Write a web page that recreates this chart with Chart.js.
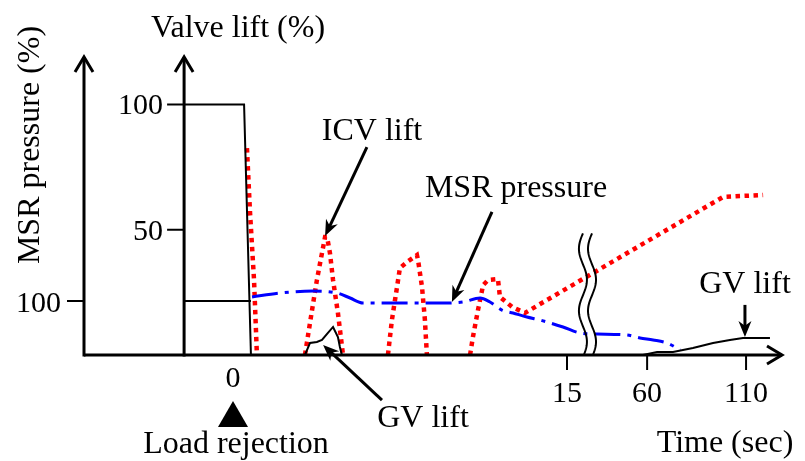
<!DOCTYPE html>
<html><head><meta charset="utf-8">
<script src="https://cdn.jsdelivr.net/npm/chart.js@4/dist/chart.umd.min.js"></script>
<style>html,body{margin:0;padding:0;background:#fff;}canvas{display:block;}</style>
</head><body>
<canvas id="c" width="805" height="461"></canvas>
<script>
// Time axis is broken: seconds before the break, compressed positions after it
const xTickPos    = [0, 15, 18.62, 23.09];
const xTickLabels = ['0', '15', '60', '110'];
const xTickMarked = [false, true, true, true];
const liftTicks   = [50, 100];
const msrTicks    = [100];
const valveAxisAt = -2.30;
const breakPos    = [15.72, 16.13];
const breakTop    = 48.6;

// GV lift (%)
const gvTime = [-2.30, 0.41, 0.72, 1.5, 3.16, 3.39, 3.70, 3.93, 4.16, 4.43, 4.65, 4.74, 4.83, 10, 18.43, 19.07, 19.79, 20.69, 21.60, 22.36, 22.95, 24.17];
const gvLift = [100, 100, 0, null, 0, 4.8, 5.2, 6.0, 8.4, 11.2, 7.2, 3.2, 0, null, 0, 1.2, 1.2, 2.8, 4.8, 6.0, 6.8, 6.8];

// ICV lift (%)
const icvTime = [0.54, 0.68, 0.86, 0.99, 2,
  3.16, 3.46, 3.70, 3.93, 4.07, 4.16, 4.29, 4.43, 4.65, 4.88, 6,
  6.91, 7.09, 7.32, 7.45, 7.77, 8.22, 8.27, 8.45, 8.58, 8.67, 9.5,
  10.62, 10.75, 10.98, 11.21, 11.43, 11.88, 11.97, 12.52, 13.10, 22.05, 23.86];
const icvLift = [82.6, 56.7, 29.9, 0, null,
  0, 16.8, 29.9, 40.7, 47.1, 47.1, 40.7, 29.9, 16.8, 0, null,
  0, 14.0, 27.1, 34.7, 37.1, 39.9, 37.9, 27.1, 14.0, 0, null,
  0, 7.2, 18.0, 27.9, 29.9, 30.3, 23.2, 19.2, 16.8, 63.1, 63.9];

// MSR pressure (%)
const msrBaseTime = [-2.30, 0.72];
const msrBase     = [100, 100];
const msrTime = [0.77, 2.03, 3.52, 4.61, 5.20, 5.78, 7.32, 9.40, 10.30, 11.07, 11.52, 12.06, 12.56, 13.19, 13.78, 14.82, 15.59, 16.36, 17.71, 18.30, 18.89, 19.52, 20.11];
const msrPressure = [107.4, 114.8, 118.5, 114.8, 105.6, 96.3, 96.3, 96.3, 98.2, 105.6, 98.2, 83.3, 77.8, 70.4, 64.8, 51.9, 40.7, 38.9, 37.0, 31.5, 27.8, 22.2, 9.3];

// Call-out arrows [fromX, fromLift, toX, toLift]
const calloutArrows = [
  [5.96, 83.0, 4.07, 47.5],
  [11.61, 57.1, 9.80, 21.2],
  [23.04, 20.0, 23.04, 7.2],
  [6.64, -18.0, 3.98, 4.0]
];

const pts = (xs, ys) => xs.map((v, i) => ({x: v, y: ys[i]}));
const FONT = "32px 'Liberation Serif', 'Times New Roman', serif";
const NUMFONT = "30px 'Liberation Serif', 'Times New Roman', serif";

function seg(ctx, x1, y1, x2, y2) { ctx.beginPath(); ctx.moveTo(x1, y1); ctx.lineTo(x2, y2); ctx.stroke(); }
function vHead(ctx, tx, ty, dx, dy) {
  const L = 15, W = 9, len = Math.hypot(dx, dy), ux = dx/len, uy = dy/len;
  ctx.beginPath();
  ctx.moveTo(tx - ux*L - uy*W, ty - uy*L + ux*W);
  ctx.lineTo(tx, ty);
  ctx.lineTo(tx - ux*L + uy*W, ty - uy*L - ux*W);
  ctx.stroke();
}
function solidArrow(ctx, x1, y1, x2, y2) {
  const L = 16, W = 6.5, len = Math.hypot(x2-x1, y2-y1), ux = (x2-x1)/len, uy = (y2-y1)/len;
  seg(ctx, x1, y1, x2 - ux*8, y2 - uy*8);
  ctx.beginPath();
  ctx.moveTo(x2, y2);
  ctx.lineTo(x2 - ux*L - uy*W, y2 - uy*L + ux*W);
  ctx.lineTo(x2 - ux*L*0.7, y2 - uy*L*0.7);
  ctx.lineTo(x2 - ux*L + uy*W, y2 - uy*L - ux*W);
  ctx.closePath(); ctx.fill();
}

const schematic = {
  id: 'schematic',
  afterDatasetsDraw(chart) {
    const {ctx, chartArea: a, scales: {x, y, y2}} = chart;
    ctx.save();
    ctx.strokeStyle = '#000'; ctx.fillStyle = '#000';
    // axes
    ctx.lineWidth = 3;
    const vx = x.getPixelForValue(valveAxisAt);
    seg(ctx, a.left, a.bottom + 1.5, a.left, a.top);
    seg(ctx, vx, a.bottom + 1.5, vx, a.top);
    seg(ctx, a.left, a.bottom, a.right, a.bottom);
    vHead(ctx, a.left, a.top, 0, -1);
    vHead(ctx, vx, a.top, 0, -1);
    vHead(ctx, a.right, a.bottom, 1, 0);
    // ticks
    ctx.lineWidth = 2;
    ctx.font = NUMFONT; ctx.textBaseline = 'alphabetic';
    liftTicks.forEach(v => {
      const py = y.getPixelForValue(v);
      seg(ctx, vx - 17, py, vx, py);
      ctx.textAlign = 'right'; ctx.fillText(String(v), vx - 21, py + 10);
    });
    msrTicks.forEach(v => {
      const py = y2.getPixelForValue(v);
      seg(ctx, a.left - 17, py, a.left, py);
      ctx.textAlign = 'right'; ctx.fillText(String(v), a.left - 23, py + 11);
    });
    xTickPos.forEach((v, i) => {
      const px = x.getPixelForValue(v);
      ctx.textAlign = 'center';
      if (xTickMarked[i]) {
        seg(ctx, px, a.bottom, px, a.bottom + 15);
        ctx.fillText(xTickLabels[i], px, a.bottom + 47);
      } else {
        ctx.fillText(xTickLabels[i], px - 2, a.bottom + 32);
      }
    });
    // axis break (wavy lines)
    ctx.lineWidth = 2;
    const top = y.getPixelForValue(breakTop), bot = a.bottom;
    breakPos.forEach(bp => {
      const x0 = x.getPixelForValue(bp);
      ctx.beginPath();
      for (let py = top; py <= bot; py += 1) {
        const px = x0 - 4 * Math.sin(2 * Math.PI * (py - top) / 62);
        if (py === top) ctx.moveTo(px, py); else ctx.lineTo(px, py);
      }
      ctx.stroke();
    });
    // call-out arrows
    ctx.lineWidth = 3;
    calloutArrows.forEach(([fx, fy, tx, ty]) => {
      solidArrow(ctx, x.getPixelForValue(fx), y.getPixelForValue(fy), x.getPixelForValue(tx), y.getPixelForValue(ty));
    });
    // texts
    ctx.font = FONT; ctx.textAlign = 'center'; ctx.textBaseline = 'alphabetic';
    ctx.fillText('ICV lift', 372, 140);
    ctx.fillText('MSR pressure', 516, 197);
    ctx.fillText('GV lift', 745, 293);
    ctx.fillText('GV lift', 423, 427);
    ctx.fillText('Valve lift (%)', 238, 37);
    ctx.fillText('Load rejection', 236, 453);
    ctx.fillText('Time (sec)', 725, 452);
    ctx.save();
    ctx.translate(39, 145); ctx.rotate(-Math.PI / 2);
    ctx.fillText('MSR pressure (%)', 0, 0);
    ctx.restore();
    // load rejection marker
    const zx = x.getPixelForValue(0) - 2;
    ctx.beginPath();
    ctx.moveTo(zx - 15, a.bottom + 72); ctx.lineTo(zx + 15, a.bottom + 72); ctx.lineTo(zx, a.bottom + 46);
    ctx.closePath(); ctx.fill();
    ctx.restore();
  }
};

new Chart(document.getElementById('c'), {
  type: 'line',
  data: {
    datasets: [
      {label: 'MSR pressure (before)', data: pts(msrBaseTime, msrBase), yAxisID: 'y2', borderColor: '#000', borderWidth: 2, pointRadius: 0, tension: 0},
      {label: 'GV lift', data: pts(gvTime, gvLift), yAxisID: 'y', borderColor: '#000', borderWidth: 2, pointRadius: 0, tension: 0, spanGaps: false},
      {label: 'MSR pressure', data: pts(msrTime, msrPressure), yAxisID: 'y2', borderColor: '#0000ff', borderWidth: 3, borderDash: [26, 7, 4, 7], pointRadius: 0, cubicInterpolationMode: 'monotone'},
      {label: 'ICV lift', data: pts(icvTime, icvLift), yAxisID: 'y', borderColor: '#ff0000', borderWidth: 4.5, borderDash: [4.5, 4.5], borderCapStyle: 'butt', pointRadius: 0, tension: 0, spanGaps: false}
    ]
  },
  options: {
    responsive: false, animation: false, devicePixelRatio: 1,
    layout: {padding: {left: 84, right: 23, top: 57, bottom: 106}},
    plugins: {legend: {display: false}, tooltip: {enabled: false}},
    scales: {
      x: {type: 'linear', display: false, min: -6.8224, max: 24.714},
      y: {display: false, min: 0, max: 118.96},
      y2: {display: false, min: 0, max: 552}
    }
  },
  plugins: [schematic]
});
</script>
</body></html>
